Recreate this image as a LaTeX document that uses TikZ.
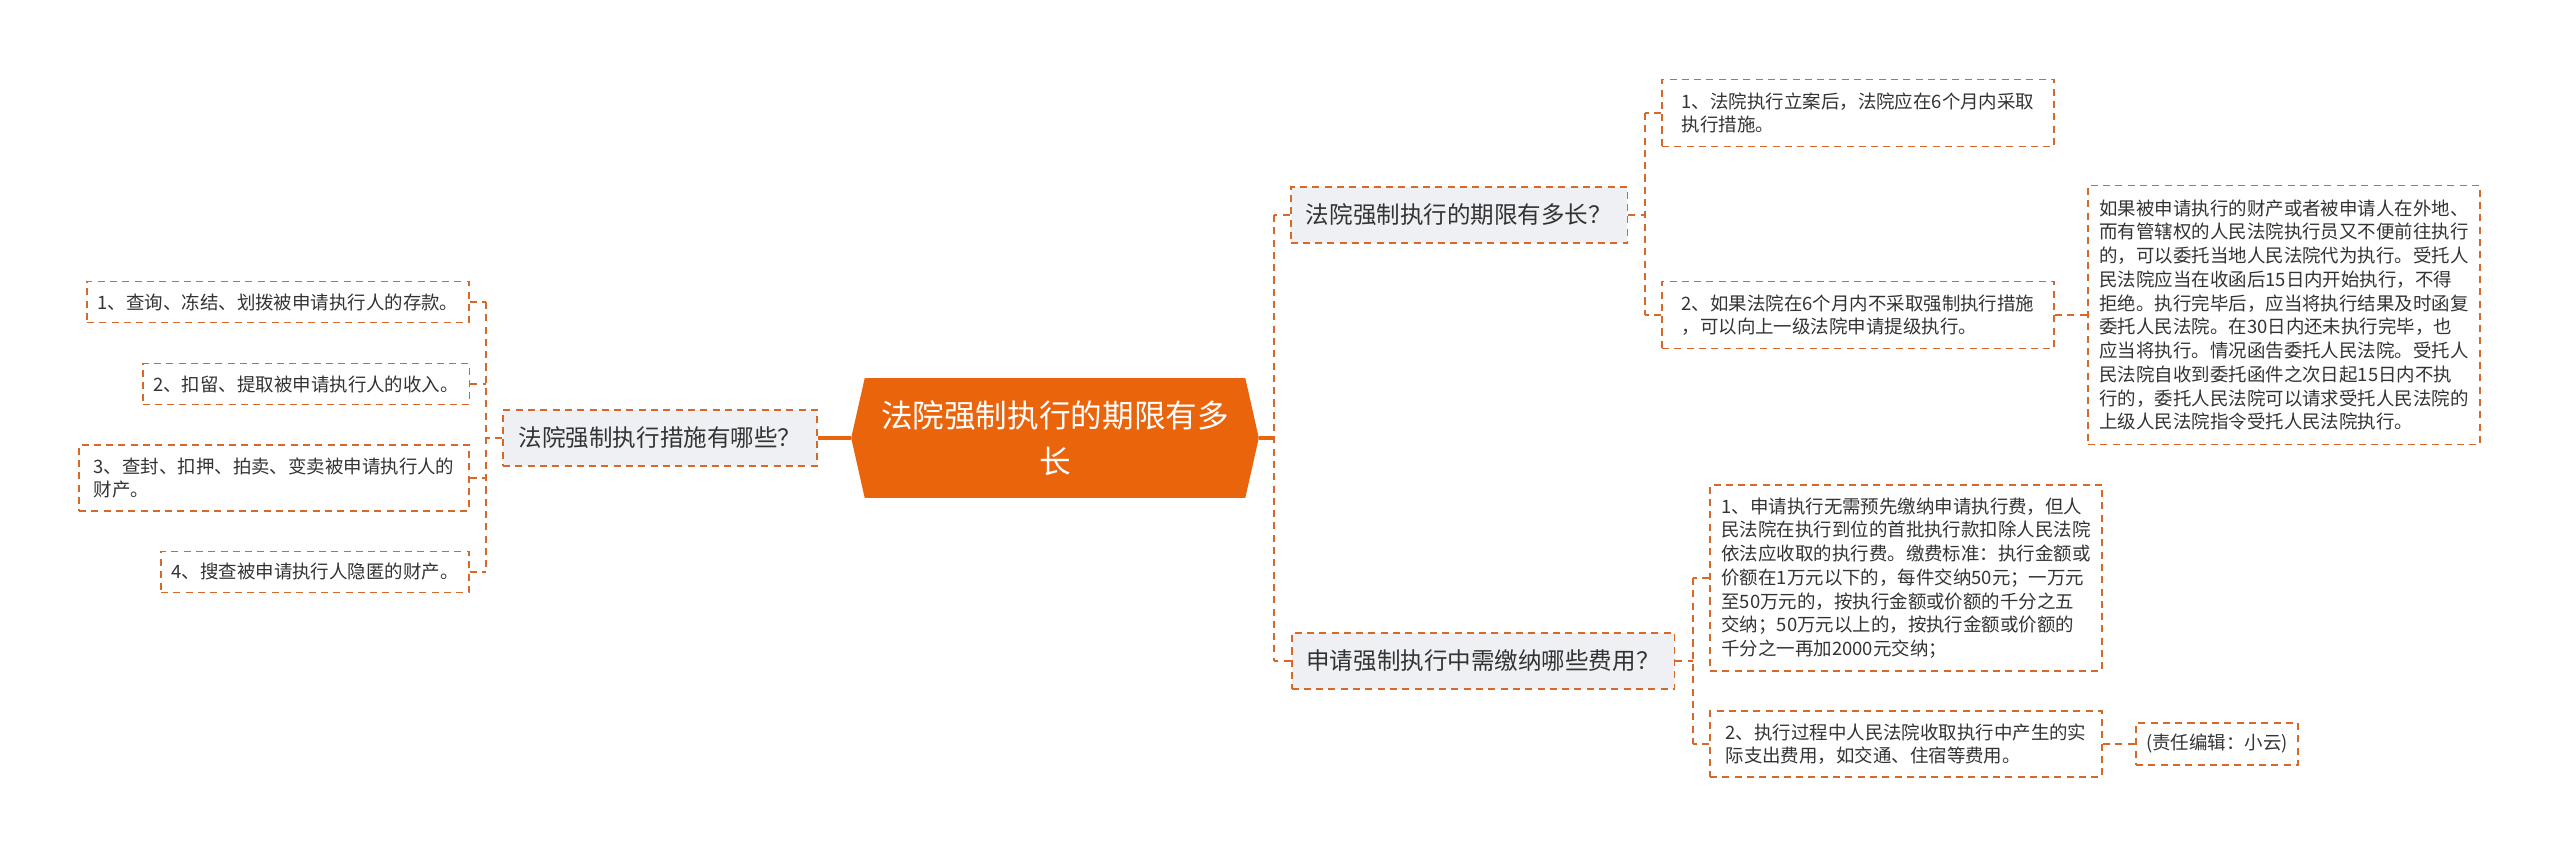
\documentclass[tikz,border=0pt]{standalone}
\usepackage{fontspec}
\setmainfont{Noto Sans CJK SC}
\usetikzlibrary{positioning}
\usetikzlibrary{backgrounds}

\definecolor{rootc}{RGB}{234,100,12}
\definecolor{linec}{RGB}{214,104,42}
\definecolor{topicbg}{RGB}{238,240,243}
\definecolor{textc}{RGB}{51,51,51}

\begin{document}
\begin{tikzpicture}[
	  x=0.02cm, y=-0.02cm,
	  every node/.style = {inner sep=0pt, align=left, text=textc},
	  roottext/.style = {align=center, text=white, font=\fontsize{18}{26}\selectfont},
	  topic/.style = {draw=linec, fill=topicbg, dash pattern=on 4pt off 3pt, line width=1.1pt, align=center, font=\fontsize{13.4}{16}\selectfont},
	  leaf/.style = {draw=linec, dash pattern=on 4pt off 3pt, line width=1.1pt, font=\fontsize{10.5}{13}\selectfont},
	  link/.style = {draw=linec, dash pattern=on 4pt off 3pt, line width=1.1pt},
	  rootlink/.style = {draw=rootc, line width=1.8pt}
	]

	  \useasboundingbox (0,0) rectangle (2560,858);

	  \node[roottext, minimum width=8.14cm, minimum height=2.38cm] (root) at (1055,438) {法院强制执行的期限有多\\长};
	  \begin{scope}[on background layer]
		\fill[rootc] (root.west) -- ([xshift=0.27cm]root.north west) -- ([xshift=-0.27cm]root.north east)
		  -- (root.east) -- ([xshift=-0.27cm]root.south east) -- ([xshift=0.27cm]root.south west) -- cycle;
	  \end{scope}

	  \node[topic, minimum width=6.28cm, minimum height=1.12cm] (b0) at (660,438) {法院强制执行措施有哪些？};
	  \node[leaf, minimum width=7.64cm, minimum height=0.82cm] (l1) at (278,302) {1、查询、冻结、划拨被申请执行人的存款。};
	  \node[leaf, minimum width=6.54cm, minimum height=0.82cm] (l2) at (306,384) {2、扣留、提取被申请执行人的收入。};
	  \node[leaf, minimum width=7.80cm, minimum height=1.32cm] (l3) at (274,478) {3、查封、扣押、拍卖、变卖被申请执行人的\\财产。};
	  \node[leaf, minimum width=6.16cm, minimum height=0.82cm] (l4) at (315,572) {4、搜查被申请执行人隐匿的财产。};

	  \node[topic, minimum width=6.74cm, minimum height=1.12cm] (b1) at (1459,215) {法院强制执行的期限有多长？};
	  \node[leaf, minimum width=7.84cm, minimum height=1.34cm] (r1a) at (1858,113) {1、法院执行立案后，法院应在6个月内采取\\执行措施。};
	  \node[leaf, minimum width=7.84cm, minimum height=1.34cm] (r1b) at (1858,315) {2、如果法院在6个月内不采取强制执行措施\\，可以向上一级法院申请提级执行。};
	  \node[leaf, minimum width=7.84cm, minimum height=5.18cm, font=\fontsize{10.5}{13.5}\selectfont] (d1) at (2284,315) {如果被申请执行的财产或者被申请人在外地、\\而有管辖权的人民法院执行员又不便前往执行\\的，可以委托当地人民法院代为执行。受托人\\民法院应当在收函后15日内开始执行，不得\\拒绝。执行完毕后，应当将执行结果及时函复\\委托人民法院。在30日内还未执行完毕，也\\应当将执行。情况函告委托人民法院。受托人\\民法院自收到委托函件之次日起15日内不执\\行的，委托人民法院可以请求受托人民法院的\\上级人民法院指令受托人民法院执行。};

	  \node[topic, minimum width=7.66cm, minimum height=1.12cm] (b2) at (1483,661) {申请强制执行中需缴纳哪些费用？};
	  \node[leaf, minimum width=7.84cm, minimum height=3.72cm, font=\fontsize{10.5}{13.5}\selectfont] (r2a) at (1906,578) {1、申请执行无需预先缴纳申请执行费，但人\\民法院在执行到位的首批执行款扣除人民法院\\依法应收取的执行费。缴费标准：执行金额或\\价额在1万元以下的，每件交纳50元；一万元\\至50万元的，按执行金额或价额的千分之五\\交纳；50万元以上的，按执行金额或价额的\\千分之一再加2000元交纳；};
	  \node[leaf, minimum width=7.84cm, minimum height=1.32cm] (r2b) at (1906,744) {2、执行过程中人民法院收取执行中产生的实\\际支出费用，如交通、住宿等费用。};
	  \node[leaf, minimum width=3.24cm, minimum height=0.84cm] (ed) at (2217,744) {(责任编辑：小云)};

	  \coordinate (lj) at (486,438);
	  \coordinate (rj) at (1274,438);
	  \coordinate (j1) at (1645,215);
	  \coordinate (j2) at (1693,661);

	  \draw[rootlink] (root.west) -- (b0.east);
	  \draw[link] (b0.west) -- (lj);
	  \draw[link] (l1.east -| lj) -- (l4.east -| lj);
	  \foreach \n in {l1,l2,l3,l4}
		\draw[link] (\n.east) -- (\n.east -| lj);

	  \draw[rootlink] (root.east) -- (rj);
	  \draw[link] (b1.west -| rj) -- (b2.west -| rj);
	  \draw[link] (b1.west) -- (b1.west -| rj);
	  \draw[link] (b2.west) -- (b2.west -| rj);

	  \draw[link] (b1.east) -- (j1);
	  \draw[link] (r1a.west -| j1) -- (r1b.west -| j1);
	  \foreach \n in {r1a,r1b}
		\draw[link] (\n.west) -- (\n.west -| j1);
	  \draw[link] (r1b.east) -- (d1.west);

	  \draw[link] (b2.east) -- (j2);
	  \draw[link] (r2a.west -| j2) -- (r2b.west -| j2);
	  \foreach \n in {r2a,r2b}
		\draw[link] (\n.west) -- (\n.west -| j2);
	  \draw[link] (r2b.east) -- (ed.west);
	\end{tikzpicture}
\end{document}
